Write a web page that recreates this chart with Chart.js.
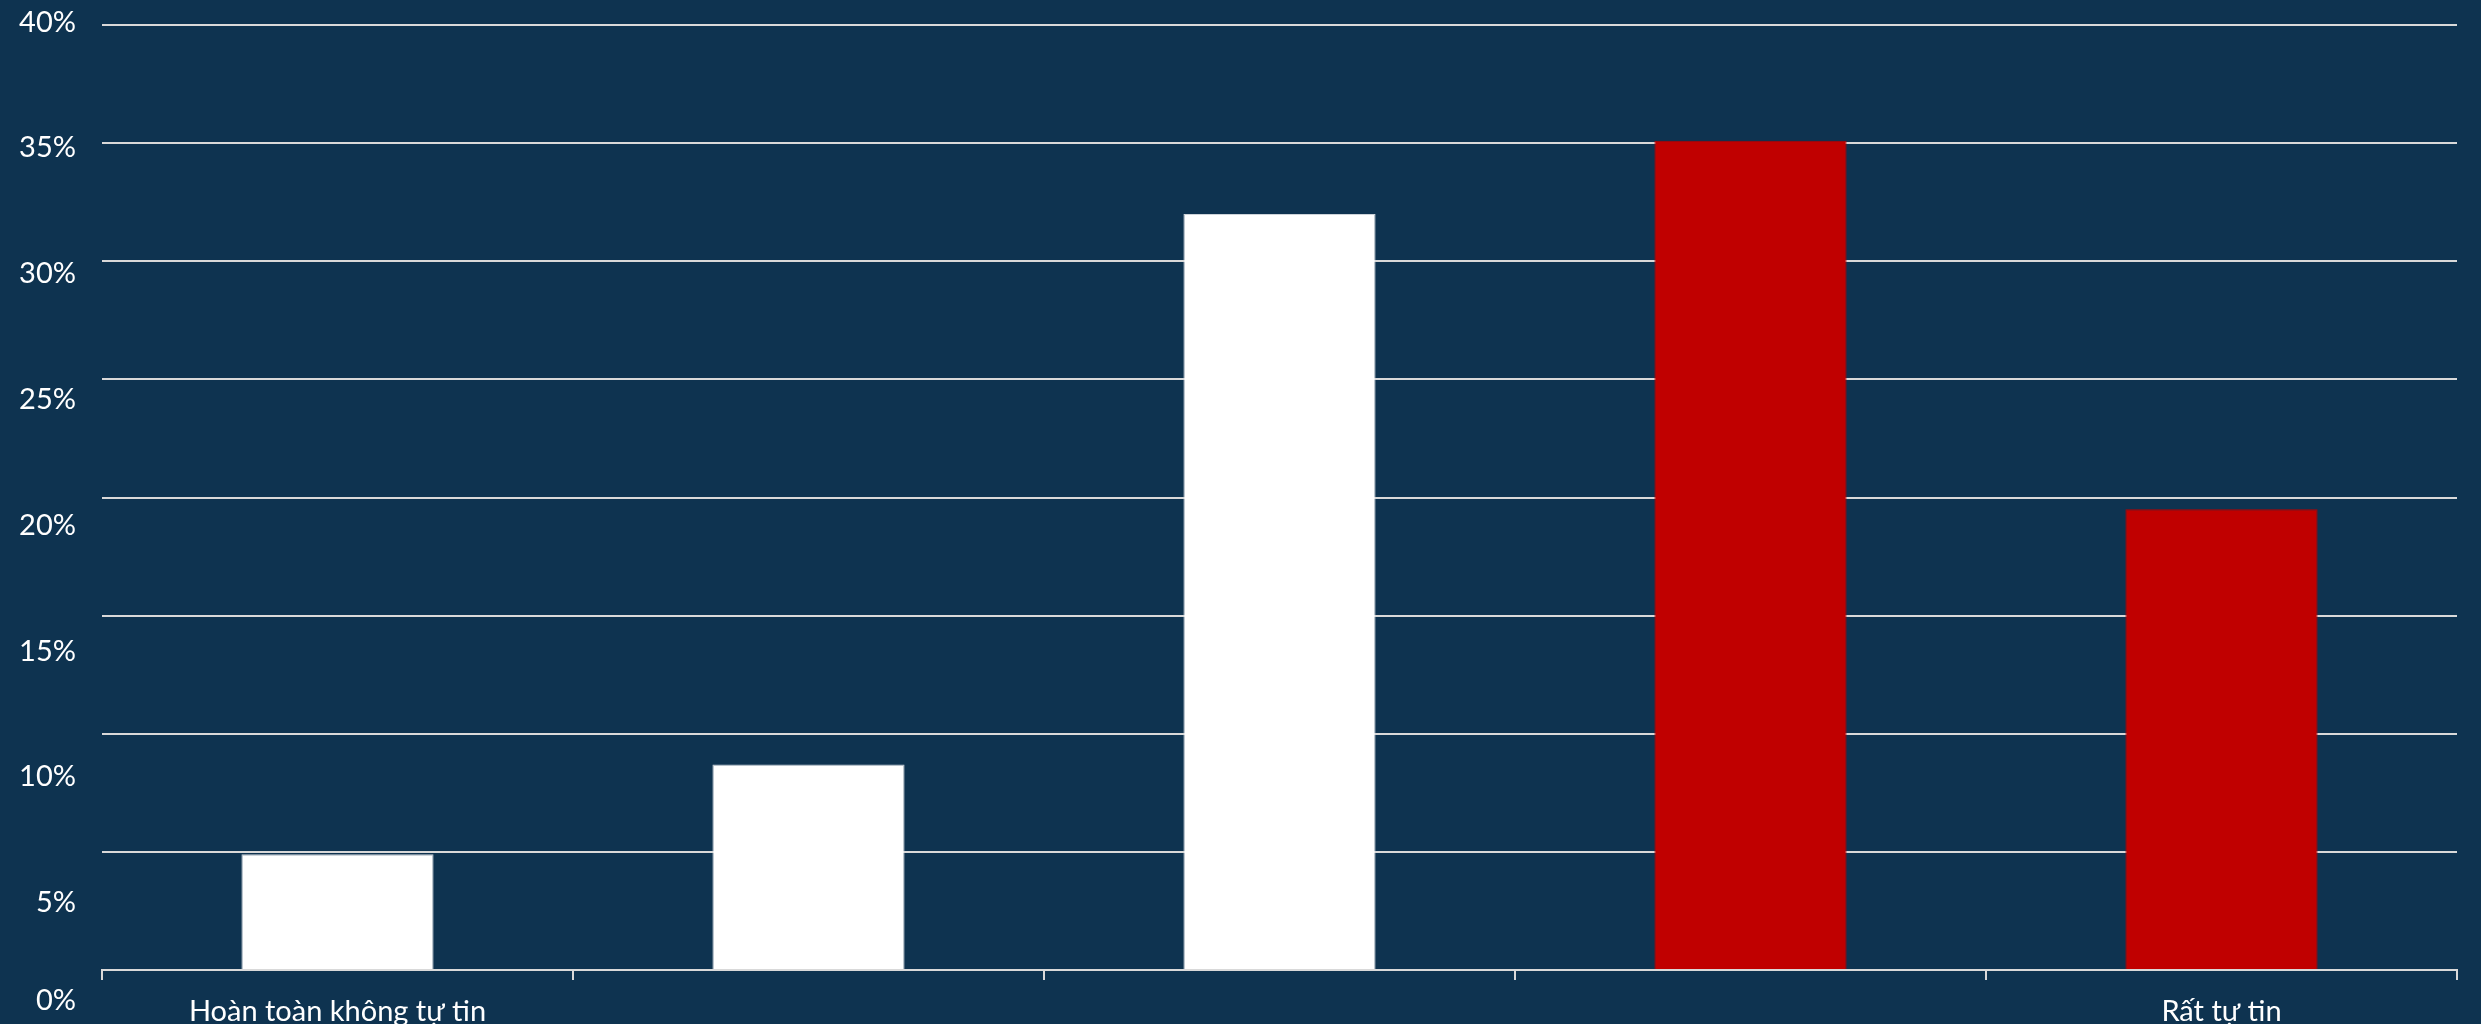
<!DOCTYPE html>
<html>
<head>
  <meta charset="utf-8">
  <title>Mức độ tự tin</title>
  <script src="https://cdn.jsdelivr.net/npm/chart.js"></script>
  <style>
    html, body { margin: 0; padding: 0; background: #0E3350; }
    #wrap { width: 2481px; height: 1024px; position: relative; }
  </style>
</head>
<body>
  <div id="wrap"><canvas id="confChart"></canvas></div>

  <script>
    // data (share of answers, %)
    const categories = ['Hoàn toàn không tự tin', '', '', '', 'Rất tự tin'];
    const shares = [4.9, 8.7, 32.0, 35.1, 19.5];
    const highlighted = [false, false, false, true, true];
    const yTickValues = [0, 5, 10, 15, 20, 25, 30, 35, 40];

    const GRID = '#D9D9D9';
    const LABEL_SIZE = 29;

    Chart.defaults.font.family = 'Lato, "Open Sans", sans-serif';
    Chart.defaults.color = '#FFFFFF';

    // the percent labels in the original sit on a slightly taller scale than the
    // gridlines, and the bottom one is pushed back inside the picture
    function clampedTickPixel(index) {
      const px = Chart.LinearScale.prototype.getPixelForTick.call(this, index);
      return Math.min(px, this.chart.height - LABEL_SIZE * 0.8);
    }

    const ctx = document.getElementById('confChart').getContext('2d');
    const confChart = new Chart(ctx, {
      type: 'bar',
      data: {
        labels: categories,
        datasets: [{
          label: 'Tỷ lệ',
          data: shares,
          backgroundColor: c => highlighted[c.dataIndex] ? '#C00000' : '#FFFFFF',
          borderColor: c => highlighted[c.dataIndex] ? '#B40000' : '#CDD3D9',
          borderWidth: 1,
          categoryPercentage: 0.408,
          barPercentage: 1
        }]
      },
      options: {
        responsive: true,
        maintainAspectRatio: false,
        animation: false,
        layout: { padding: { top: 25, right: 24, left: 0, bottom: 0 } },
        plugins: { legend: { display: false }, tooltip: { enabled: false } },
        scales: {
          x: {
            z: 1,
            grid: { offset: true, drawOnChartArea: false, drawTicks: true, tickLength: 10, color: GRID, lineWidth: 2 },
            border: { display: true, color: GRID, width: 2 },
            ticks: { autoSkip: false, maxRotation: 0, padding: 14, font: { size: LABEL_SIZE } },
            afterFit: s => { s.height = 54; s.paddingLeft = 0; s.paddingRight = 0; }
          },
          y: {
            position: 'left',
            min: 0,
            max: 40,
            grid: { color: GRID, lineWidth: 2, drawTicks: false },
            border: { display: false },
            ticks: { stepSize: 5, display: false }
          },
          yl: {
            position: 'left',
            min: 2.33,
            max: 39.89,
            grid: { display: false, drawTicks: false },
            border: { display: false },
            ticks: { padding: 26, font: { size: LABEL_SIZE }, callback: v => v + '%' },
            afterBuildTicks: s => {
              s.ticks = yTickValues.map(v => ({ value: v }));
              s.getPixelForTick = clampedTickPixel;
            },
            afterFit: s => { s.width = 102; s.paddingTop = 0; s.paddingBottom = 0; }
          }
        }
      }
    });
  </script>
</body>
</html>
